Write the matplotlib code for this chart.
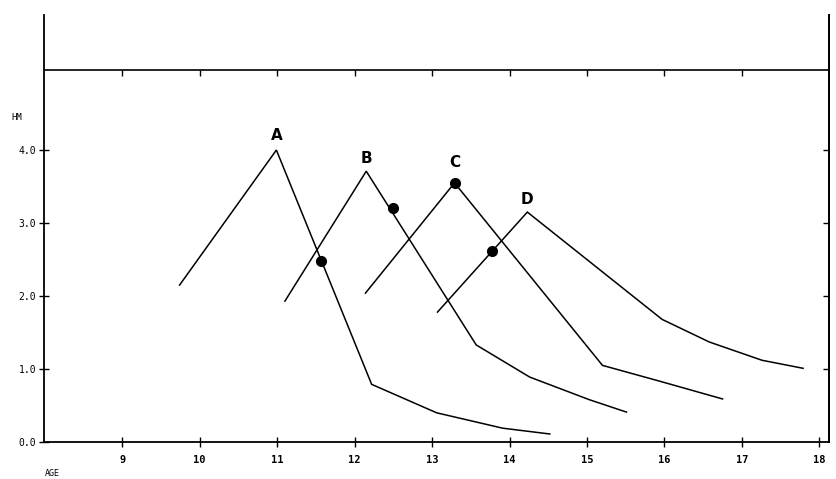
import matplotlib
matplotlib.use("Agg")
import matplotlib.pyplot as plt

# ---- data ----
a_age = [9.74, 10.99, 12.22, 13.06, 13.91, 14.52]
a_hm = [2.15, 4.00, 0.79, 0.40, 0.19, 0.11]
b_age = [11.10, 12.15, 13.57, 14.26, 15.03, 15.51]
b_hm = [1.93, 3.71, 1.33, 0.89, 0.58, 0.41]
c_age = [12.14, 13.29, 15.20, 15.95, 16.75]
c_hm = [2.04, 3.55, 1.05, 0.83, 0.59]
d_age = [13.07, 14.23, 15.97, 16.58, 17.26, 17.79]
d_hm = [1.78, 3.15, 1.68, 1.37, 1.12, 1.01]

dot_age = [11.57, 12.49, 13.29, 13.77]
dot_hm = [2.48, 3.21, 3.55, 2.62]

curve_labels = ["A", "B", "C", "D"]
label_offsets = [5, 4, 9, 4]

x_ticks = [9, 10, 11, 12, 13, 14, 15, 16, 17, 18]
y_ticks = [0.0, 1.0, 2.0, 3.0, 4.0]
y_tick_labels = ["0.0", "1.0", "2.0", "3.0", "4.0"]
top_line_hm = 5.10
top_tick_ages = [9, 10, 11, 12, 13, 14, 15, 16, 17]

fig = plt.figure(figsize=(8.37, 4.79), dpi=100)
ax = fig.add_axes([0.0526, 0.0772, 0.9374, 0.8915])
ax.set_xlim(7.99, 18.12)
ax.set_ylim(0, 5.85)

series = [(a_age, a_hm), (b_age, b_hm), (c_age, c_hm), (d_age, d_hm)]
for (xs, ys), lab, off in zip(series, curve_labels, label_offsets):
    ax.plot(xs, ys, color="black", lw=1.1, solid_joinstyle="miter")
    i = ys.index(max(ys))
    ax.annotate(lab, (xs[i], ys[i]), xytext=(0, off), textcoords="offset points",
                ha="center", va="bottom", fontsize=11, fontweight="bold",
                family="DejaVu Sans")

ax.plot(dot_age, dot_hm, "o", color="black", markersize=7)

# top horizontal line with downward ticks
ax.axhline(top_line_hm, color="black", lw=1.2)
ax.vlines(top_tick_ages, top_line_hm - 0.08, top_line_hm, color="black", lw=1.0)

ax.spines["top"].set_visible(False)
for s in ["left", "right", "bottom"]:
    ax.spines[s].set_linewidth(1.3)

ax.set_xticks(x_ticks)
ax.set_xticklabels([str(t) for t in x_ticks], fontsize=7.5, fontweight="bold",
                   family="DejaVu Sans Mono")
ax.set_yticks(y_ticks)
ax.set_yticklabels(y_tick_labels, fontsize=7, family="DejaVu Sans Mono")
ax.tick_params(axis="x", direction="inout", length=7, width=1.0, pad=6)
ax.tick_params(axis="y", direction="inout", length=7, width=1.0, pad=2)

ax2 = ax.twinx()
ax2.set_ylim(ax.get_ylim())
ax2.set_yticks([1.0, 2.0, 3.0, 4.0])
ax2.set_yticklabels([])
ax2.tick_params(axis="y", direction="in", length=4, width=1.0)
for s in ["top", "left", "bottom"]:
    ax2.spines[s].set_visible(False)
ax2.spines["right"].set_linewidth(1.3)

fig.text(17 / 837, 1 - 118 / 479, "HM", fontsize=6.5, family="DejaVu Sans Mono",
         ha="center", va="center")
fig.text(52 / 837, 1 - 474 / 479, "AGE", fontsize=6, family="DejaVu Sans Mono",
         ha="center", va="center")

fig.savefig("out.png", dpi=100, facecolor="white")
